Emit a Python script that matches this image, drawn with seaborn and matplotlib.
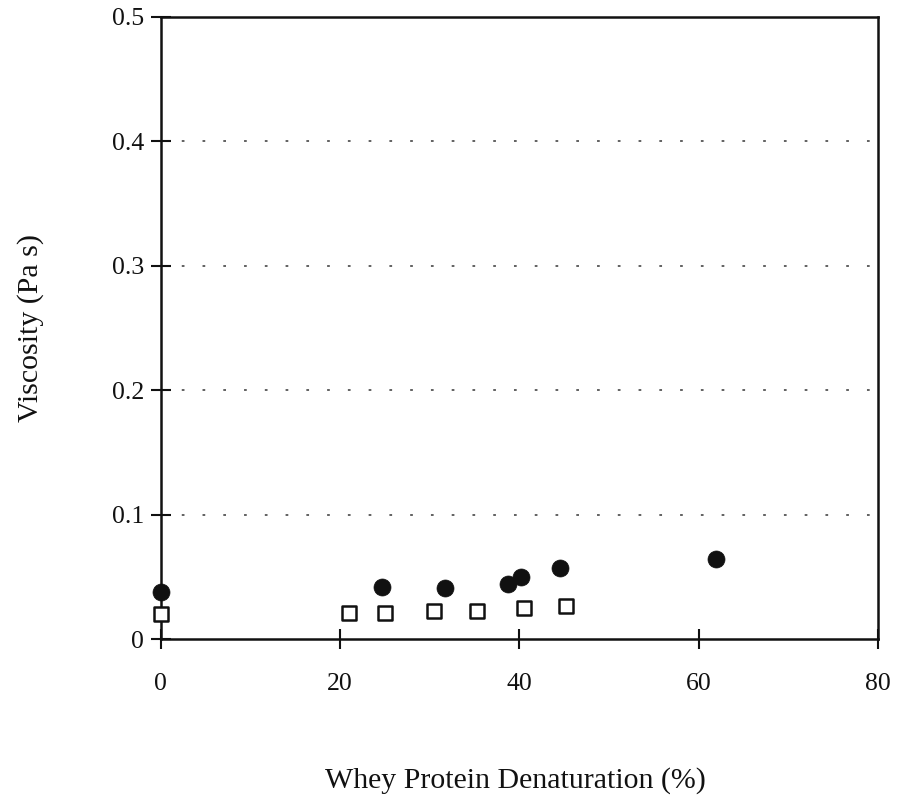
import matplotlib
matplotlib.use("Agg")
import matplotlib.pyplot as plt
import seaborn as sns
import pandas as pd

# Data
circle_x = [0, 24.7, 31.7, 38.7, 40.2, 44.5, 61.9]
circle_y = [0.038, 0.042, 0.041, 0.0444, 0.0503, 0.057, 0.0645]
square_x = [0, 21.0, 25.0, 30.5, 35.3, 40.5, 45.2]
square_y = [0.0206, 0.0209, 0.0209, 0.023, 0.023, 0.0249, 0.0268]

x_ticks = [0, 20, 40, 60, 80]
y_ticks = [0, 0.1, 0.2, 0.3, 0.4, 0.5]
y_tick_labels = ["0", "0.1", "0.2", "0.3", "0.4", "0.5"]

sns.set_theme(style="white")
plt.rcParams['font.family'] = ['Liberation Serif', 'DejaVu Serif']

fig = plt.figure(figsize=(8.98, 7.95), dpi=100)
ax = fig.add_axes([0.179, 0.196, 0.799, 0.783])

df_c = pd.DataFrame({"x": circle_x, "y": circle_y})
df_s = pd.DataFrame({"x": square_x, "y": square_y})

for yv in y_ticks[1:-1]:
    ax.axhline(yv, color="#555555", linewidth=1.3, linestyle=(0, (1.5, 10)), zorder=0)

sns.scatterplot(data=df_c, x="x", y="y", ax=ax, marker="o", s=150,
                color="#111111", edgecolor="#111111", linewidth=0.5, zorder=3, clip_on=False)
sns.scatterplot(data=df_s, x="x", y="y", ax=ax, marker="s", s=100,
                facecolor="white", edgecolor="#111111", linewidth=1.8, zorder=3, clip_on=False)

ax.set_xlim(0, 80)
ax.set_ylim(0, 0.5)
ax.set_xticks(x_ticks)
ax.set_yticks(y_ticks)
ax.set_yticklabels(y_tick_labels)

for sp in ax.spines.values():
    sp.set_color("#111111")
    sp.set_linewidth(1.8)

ax.tick_params(axis="both", direction="inout", length=14, width=1.5, color="#111111",
               labelsize=18.5, labelcolor="#111111", left=True, bottom=True)
ax.tick_params(axis="x", pad=17)
ax.tick_params(axis="y", pad=5)

ax.set_xlabel("Whey Protein Denaturation (%)", fontsize=21.5, color="#111111")
ax.set_ylabel("Viscosity (Pa s)", fontsize=21.5, color="#111111")
ax.xaxis.set_label_coords(0.494, -0.227)
ax.yaxis.set_label_coords(-0.181, 0.5)
ax.xaxis.label.set_va("center")
ax.yaxis.label.set_va("center")

fig.savefig("out.png", dpi=100)
